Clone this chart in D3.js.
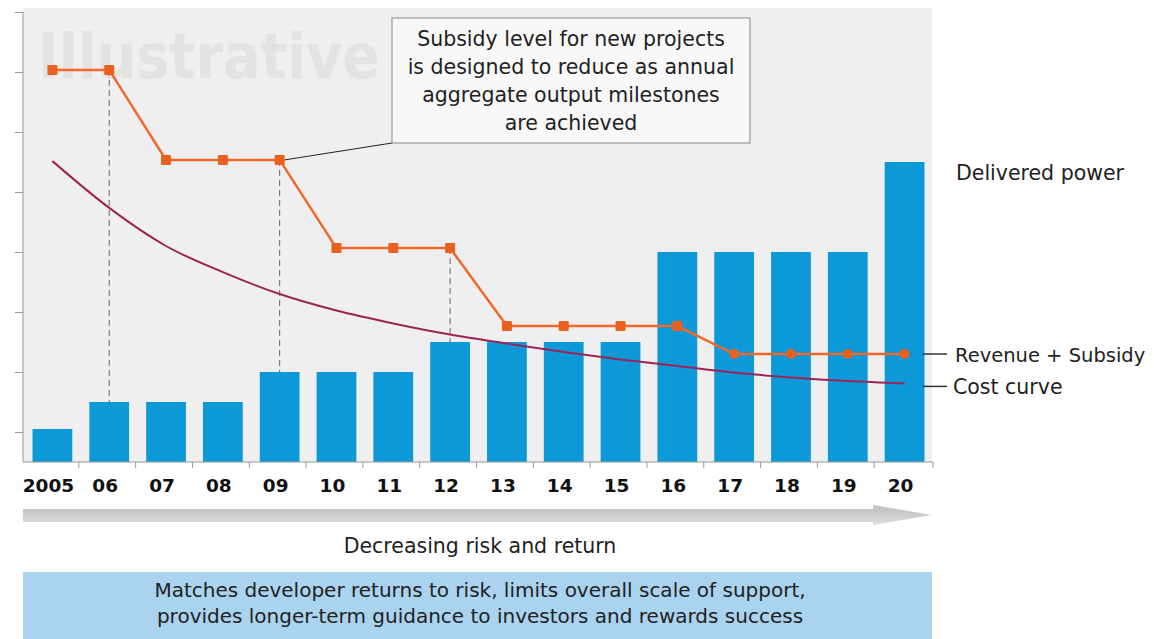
<html>
<head>
<meta charset="utf-8">
<title>Subsidy level vs delivered power</title>
<script src="https://d3js.org/d3.v7.min.js"></script>
<style>
body {
	margin: 0;
	background: #fff;
	font-family: "DejaVu Sans", sans-serif;
}
</style>
</head>
<body>
<div id="container"></div>

<script>

// chart values (units: arbitrary "level", 0 = axis)
var years = ["2005", "06", "07", "08", "09", "10", "11", "12", "13", "14", "15", "16", "17", "18", "19", "20"];
var delivered = [1.1, 2, 2, 2, 3, 3, 3, 4, 4, 4, 4, 7, 7, 7, 7, 10];
var revenueSubsidy = [13.07, 13.07, 10.07, 10.07, 10.07, 7.13, 7.13, 7.13, 4.53, 4.53, 4.53, 4.53, 3.6, 3.6, 3.6, 3.6];
var costCurve = [10.03, 8.47, 7.2, 6.33, 5.6, 5.05, 4.62, 4.25, 3.95, 3.67, 3.42, 3.2, 2.98, 2.82, 2.7, 2.62];
var milestones = ["06", "09", "12"];
var yTicks = [1, 3, 5, 7, 9, 11, 13, 15];

var calloutLines = ["Subsidy level for new projects", "is designed to reduce as annual", "aggregate output milestones", "are achieved"];
var footerLines = ["Matches developer returns to risk, limits overall scale of support,", "provides longer-term guidance to investors and rewards success"];

var width = 1154, height = 639;

var svg = d3.select("#container").append("svg")
	.attr("width", width)
	.attr("height", height);

var x = d3.scaleBand().domain(years).range([24, 933]).paddingInner(0.3).paddingOuter(0.15);
var y = d3.scaleLinear().domain([0, 15]).range([462, 12]);

var orange = "#f0692a", blue = "#0d98d8", maroon = "#9c2454";

// grey plot background
svg.append("rect")
	.attr("x", 23).attr("y", 8)
	.attr("width", 909).attr("height", 454)
	.attr("fill", "#efefef");

// watermark
svg.append("text")
	.attr("x", 38).attr("y", 78)
	.attr("font-size", 62)
	.attr("font-weight", "bold")
	.attr("fill", "#e3e3e3")
	.attr("textLength", 342)
	.attr("lengthAdjust", "spacingAndGlyphs")
	.text("Illustrative");

// y axis: line + ticks only, no labels
var yAxis = svg.append("g").attr("transform", "translate(23,0)")
	.call(d3.axisLeft(y).tickValues(yTicks).tickSize(8).tickFormat(""));
yAxis.select(".domain").attr("d", "M0," + y.range()[1] + "V" + y(0)).attr("stroke", "#999");
yAxis.selectAll(".tick line").attr("stroke", "#999");

// bars
svg.selectAll("rect.bar")
	.data(years)
	.enter().append("rect")
	.attr("class", "bar")
	.attr("x", function(d) { return x(d); })
	.attr("y", function(d, i) { return y(delivered[i]); })
	.attr("width", x.bandwidth())
	.attr("height", function(d, i) { return y(0) - y(delivered[i]); })
	.attr("fill", blue);

// x axis line + ticks between the bands
svg.append("line")
	.attr("x1", 23).attr("x2", 933)
	.attr("y1", y(0)).attr("y2", y(0))
	.attr("stroke", "#999");

var gap = x.step() * x.paddingInner() / 2;
svg.selectAll("line.xtick")
	.data(years)
	.enter().append("line")
	.attr("class", "xtick")
	.attr("x1", function(d, i) { return i == 0 ? 933 : x(d) - gap - 2; })
	.attr("x2", function(d, i) { return i == 0 ? 933 : x(d) - gap - 2; })
	.attr("y1", y(0)).attr("y2", y(0) + 6)
	.attr("stroke", "#999");

svg.selectAll("text.year")
	.data(years)
	.enter().append("text")
	.attr("class", "year")
	.attr("x", function(d) { return x(d) + x.bandwidth() / 2 - 4; })
	.attr("y", 492)
	.attr("text-anchor", "middle")
	.attr("font-size", 18.5)
	.attr("font-weight", "bold")
	.attr("fill", "#111")
	.text(function(d) { return d; });

function cx(d) { return x(d) + x.bandwidth() / 2; }

// dashed drop lines at the milestones
svg.selectAll("line.drop")
	.data(milestones)
	.enter().append("line")
	.attr("class", "drop")
	.attr("x1", cx).attr("x2", cx)
	.attr("y1", function(d) { return y(revenueSubsidy[years.indexOf(d)]); })
	.attr("y2", function(d) { return y(delivered[years.indexOf(d)]); })
	.attr("stroke", "#666")
	.attr("stroke-dasharray", "6,4");

// cost curve
var costLine = d3.line()
	.x(function(d, i) { return cx(years[i]); })
	.y(function(d) { return y(d); })
	.curve(d3.curveMonotoneX);

svg.append("path")
	.attr("d", costLine(costCurve))
	.attr("fill", "none")
	.attr("stroke", maroon)
	.attr("stroke-width", 2);

// revenue + subsidy step line
var revLine = d3.line()
	.x(function(d, i) { return cx(years[i]); })
	.y(function(d) { return y(d); });

svg.append("path")
	.attr("d", revLine(revenueSubsidy))
	.attr("fill", "none")
	.attr("stroke", orange)
	.attr("stroke-width", 2.5);

svg.selectAll("rect.mark")
	.data(revenueSubsidy)
	.enter().append("rect")
	.attr("class", "mark")
	.attr("x", function(d, i) { return cx(years[i]) - 5; })
	.attr("y", function(d) { return y(d) - 5; })
	.attr("width", 10).attr("height", 10)
	.attr("rx", function(d, i) { return i >= 12 ? 5 : 1; })
	.attr("fill", "#e8611f");

// callout box + leader to the 09 marker
var p09 = [cx("09"), y(revenueSubsidy[4])];
svg.append("line")
	.attr("x1", p09[0] + 5).attr("y1", p09[1])
	.attr("x2", 392).attr("y2", 143)
	.attr("stroke", "#222");

svg.append("rect")
	.attr("x", 392).attr("y", 18)
	.attr("width", 358).attr("height", 125)
	.attr("fill", "#f8f8f8")
	.attr("stroke", "#888");

svg.selectAll("text.callout")
	.data(calloutLines)
	.enter().append("text")
	.attr("class", "callout")
	.attr("x", 571)
	.attr("y", function(d, i) { return 46 + i * 28; })
	.attr("text-anchor", "middle")
	.attr("font-size", 20.5)
	.attr("fill", "#222")
	.text(function(d) { return d; });

// right hand labels
svg.append("text")
	.attr("x", 956).attr("y", 180)
	.attr("font-size", 20.5).attr("fill", "#222")
	.text("Delivered power");

var lastX = cx("20") + 18;
svg.append("line")
	.attr("x1", lastX).attr("x2", 947)
	.attr("y1", y(revenueSubsidy[15])).attr("y2", y(revenueSubsidy[15]))
	.attr("stroke", "#333").attr("stroke-width", 1.5);
svg.append("text")
	.attr("x", 955).attr("y", y(revenueSubsidy[15]) + 8)
	.attr("font-size", 19.5).attr("fill", "#222")
	.text("Revenue + Subsidy");

svg.append("line")
	.attr("x1", lastX).attr("x2", 947)
	.attr("y1", y(costCurve[15]) + 3).attr("y2", y(costCurve[15]) + 3)
	.attr("stroke", "#333").attr("stroke-width", 1.5);
svg.append("text")
	.attr("x", 953).attr("y", y(costCurve[15]) + 11)
	.attr("font-size", 20.5).attr("fill", "#222")
	.text("Cost curve");

// grey arrow
var defs = svg.append("defs");
var grad = defs.append("linearGradient").attr("id", "arrowGrad")
	.attr("x1", 0).attr("y1", 0).attr("x2", 0).attr("y2", 1);
grad.append("stop").attr("offset", "0%").attr("stop-color", "#bdbdbd");
grad.append("stop").attr("offset", "100%").attr("stop-color", "#dcdcdc");

svg.append("path")
	.attr("d", "M23,509 L873,509 L873,505 L932,515 L873,525 L873,522 L23,522 Z")
	.attr("fill", "url(#arrowGrad)");

svg.append("text")
	.attr("x", 480).attr("y", 553)
	.attr("text-anchor", "middle")
	.attr("font-size", 20.5).attr("fill", "#222")
	.text("Decreasing risk and return");

// blue footer box
svg.append("rect")
	.attr("x", 23).attr("y", 572)
	.attr("width", 909).attr("height", 67)
	.attr("fill", "#a9d3ef");

svg.selectAll("text.footer")
	.data(footerLines)
	.enter().append("text")
	.attr("class", "footer")
	.attr("x", 480)
	.attr("y", function(d, i) { return 597 + i * 26; })
	.attr("text-anchor", "middle")
	.attr("font-size", 20)
	.attr("fill", "#222")
	.text(function(d) { return d; });

</script>
</body>
</html>
